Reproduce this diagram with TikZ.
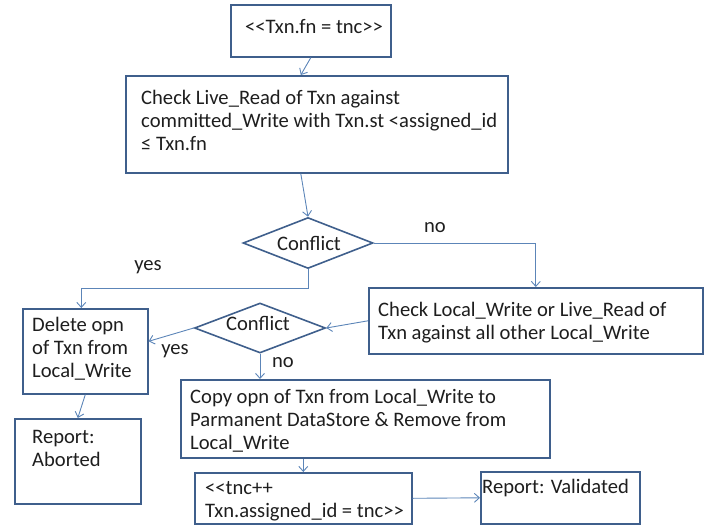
\documentclass[tikz,border=0pt]{standalone}
\usepackage{fontspec}
\setmainfont{Carlito}
\usetikzlibrary{arrows.meta,shapes.geometric}
\definecolor{boxblue}{HTML}{3F5F8C}
\definecolor{linkblue}{HTML}{5C85B8}
\definecolor{ink}{HTML}{1E1E1E}
\begin{document}
\begin{tikzpicture}[x=1pt,y=-1pt,
  box/.style={draw=boxblue, line width=1.6pt, rectangle, inner sep=0pt, anchor=north west},
  dec/.style={draw=boxblue, line width=1.6pt, diamond, inner sep=0pt},
  % multi-line texts: the base anchor sits on the last line
  txt/.style={anchor=base west, inner sep=0pt, align=left, text=ink, font=\fontsize{20.6}{23}\selectfont},
  lbl/.style={inner sep=0pt, text=ink, font=\fontsize{20.6}{23}\selectfont},
  arr/.style={draw=linkblue, line width=0.9pt, -{Straight Barb[length=5pt,width=9pt]}}]
\useasboundingbox (0,0) rectangle (709,527);

% process boxes
\node[box, minimum width=160pt, minimum height=52pt] (b1) at (230,4) {};
\node[box, minimum width=382pt, minimum height=97pt] (b2) at (125,75) {};
\node[box, minimum width=334pt, minimum height=66pt] (b3) at (368,287) {};
\node[box, minimum width=125pt, minimum height=85pt] (b4) at (22,308) {};
\node[box, minimum width=126pt, minimum height=85pt] (b5) at (14,418) {};
\node[box, minimum width=369pt, minimum height=78pt] (b6) at (180,379) {};
\node[box, minimum width=217pt, minimum height=51pt] (b7) at (194,472) {};
\node[box, minimum width=159pt, minimum height=52pt] (b8) at (480,471) {};

% decisions
\node[dec, minimum width=130pt, minimum height=51pt] (d1) at (308,243) {};
\node[dec, minimum width=131pt, minimum height=50pt] (d2) at (260,328) {};

% box texts
\node[txt] (t1) at (245,34) {<{}<Txn.fn = tnc>{}>};
\node[txt] (t2) at (141,150) {Check Live\_Read of Txn against\\committed\_Write with Txn.st <assigned\_id\\≤ Txn.fn};
\node[txt] (t3) at (378,339) {Check Local\_Write or Live\_Read of\\Txn against all other Local\_Write};
\node[txt] (t4) at (32,377) {Delete opn\\of Txn from\\Local\_Write};
\node[txt] (t5) at (32,466) {Report:\\Aborted};
\node[txt] (t6) at (190,449) {Copy opn of Txn from Local\_Write to\\Parmanent DataStore \& Remove from\\Local\_Write};
\node[txt] (t7) at (205,517) {<{}<tnc++\\Txn.assigned\_id = tnc>{}>};
\node[txt] (t8) at (482,493) {Report: Validated};

% decision texts and branch labels
\node[lbl] (c1) at (309,243) {Conflict};
\node[lbl] (c2) at (258,323) {Conflict};
\node[lbl] (no1) at (435,228) {no};
\node[lbl] (yes1) at (148,267) {yes};
\node[lbl] (yes2) at (175,351) {yes};
\node[lbl] (no2) at (283,363) {no};

% connectors
\draw[arr] (b1.south) -- ([xshift=-16pt]b2.north);
\draw[arr] ([xshift=-16pt]b2.south) -- (d1.north);
\draw[arr] (d1.east) -| (b3.north);
\draw[arr] (d1.south) -- ++(0,19) -| ([xshift=-4pt]b4.north);
\draw[arr] (b3.west) -- (d2.east);
\draw[arr] (d2.west) -- ([yshift=10pt]b4.east);
\draw[arr] (d2.south) -- (d2.south |- b6.north);
\draw[arr] (b4.south) -- (b5.north);
\draw[arr] (b6.south -| b7.north) -- (b7.north);
\draw[arr] (b7.east) -- (b8.west);
\end{tikzpicture}
\end{document}
